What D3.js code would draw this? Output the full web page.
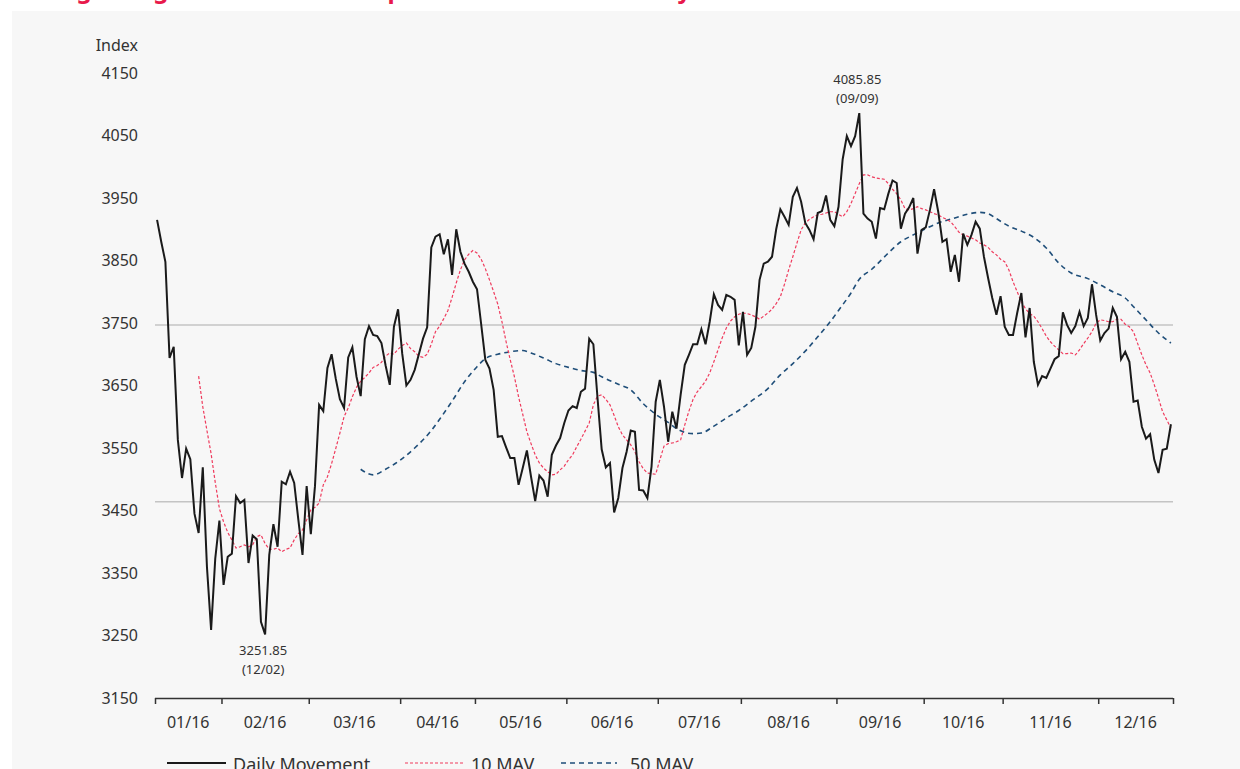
<!DOCTYPE html>
<html>
<head>
<meta charset="utf-8">
<script src="https://cdn.jsdelivr.net/npm/d3@7"></script>
<style>
  html, body { margin: 0; padding: 0; background: #ffffff; }
  body { width: 1240px; height: 769px; overflow: hidden; font-family: "Noto Sans", sans-serif; }
</style>
</head>
<body>
<svg id="chart" width="1240" height="769"></svg>
<script>
// ----------- DATA ------------
// month labels and number of trading days in each month
const months = ["01/16", "02/16", "03/16", "04/16", "05/16", "06/16", "07/16", "08/16", "09/16", "10/16", "11/16", "12/16"];
const monthDays = [16, 21, 22, 18, 22, 22, 20, 23, 21, 19, 23, 18];

// daily closing values, one per trading day
const daily = [
  3915, 3880, 3848, 3694, 3712, 3563, 3502, 3549, 3532, 3445,
  3414, 3519, 3360, 3259, 3373, 3434, 3331, 3376, 3381, 3473,
  3462, 3467, 3366, 3410, 3404, 3272, 3251.85, 3379, 3428, 3392,
  3496, 3492, 3512, 3494, 3435, 3379, 3489, 3412, 3489, 3619,
  3609, 3678, 3700, 3661, 3628, 3614, 3695, 3711, 3664, 3633,
  3724, 3745, 3731, 3729, 3718, 3682, 3651, 3744, 3772, 3701,
  3650, 3659, 3675, 3700, 3725, 3743, 3871, 3888, 3892, 3860,
  3884, 3827, 3900, 3864, 3845, 3832, 3816, 3804, 3748, 3691,
  3677, 3643, 3568, 3569, 3551, 3534, 3534, 3491, 3518, 3546,
  3504, 3465, 3506, 3498, 3472, 3539, 3554, 3566, 3590, 3610,
  3617, 3614, 3640, 3645, 3725, 3716, 3630, 3548, 3519, 3526,
  3447, 3470, 3518, 3544, 3578, 3576, 3483, 3482, 3470, 3520,
  3624, 3659, 3616, 3560, 3608, 3581, 3635, 3683, 3699, 3716,
  3716, 3740, 3716, 3752, 3796, 3779, 3771, 3795, 3792, 3787,
  3714, 3768, 3699, 3710, 3744, 3819, 3845, 3848, 3856, 3900,
  3932, 3920, 3907, 3952, 3966, 3944, 3910, 3899, 3884, 3926,
  3929, 3954, 3915, 3905, 3936, 4012, 4049, 4033, 4049, 4085.85,
  3925, 3917, 3912, 3885, 3934, 3932, 3957, 3978, 3974, 3901,
  3925, 3935, 3950, 3861, 3899, 3903, 3931, 3964, 3928, 3880,
  3884, 3832, 3859, 3816, 3893, 3875, 3891, 3912, 3901, 3856,
  3822, 3790, 3763, 3793, 3744, 3731, 3731, 3766, 3798, 3727,
  3774, 3688, 3651, 3665, 3662, 3677, 3692, 3697, 3767, 3747,
  3734, 3745, 3768, 3745, 3758, 3812, 3763, 3722, 3734, 3741,
  3774, 3760, 3692, 3704, 3688, 3624, 3626, 3584, 3565, 3572,
  3531, 3510, 3547, 3549, 3588
];

// 10-day moving average, first value is on trading day 10
const mav10Start = 10;
const mav10 = [
  3665, 3616, 3578, 3541, 3495, 3453, 3432, 3415, 3403, 3390,
  3392, 3395, 3392, 3395, 3408, 3411, 3397, 3388, 3388, 3390,
  3384, 3388, 3390, 3403, 3413, 3419, 3435, 3451, 3455, 3462,
  3491, 3504, 3525, 3549, 3574, 3600, 3614, 3632, 3647, 3657,
  3663, 3670, 3679, 3682, 3687, 3697, 3702, 3700, 3708, 3714,
  3718, 3709, 3704, 3697, 3695, 3700, 3716, 3736, 3745, 3757,
  3770, 3791, 3814, 3835, 3851, 3860, 3866, 3862, 3852, 3837,
  3819, 3800, 3780, 3752, 3720, 3691, 3664, 3632, 3604, 3576,
  3557, 3539, 3526, 3518, 3512, 3507, 3508, 3515, 3521, 3531,
  3539, 3552, 3564, 3577, 3590, 3619, 3633, 3635, 3628, 3619,
  3602, 3584, 3571, 3563, 3555, 3544, 3528, 3517, 3510, 3509,
  3508, 3531, 3553, 3557, 3558, 3560, 3563, 3587, 3609, 3628,
  3640, 3648, 3657, 3670, 3688, 3707, 3726, 3742, 3753, 3760,
  3764, 3766, 3765, 3763, 3760, 3756, 3761, 3766, 3772, 3781,
  3792, 3812, 3835, 3856, 3878, 3899, 3910, 3916, 3920, 3923,
  3924, 3926, 3928, 3928, 3924, 3920, 3928, 3941, 3957, 3973,
  3987, 3987, 3984, 3982, 3981, 3980, 3973, 3964, 3957, 3947,
  3933, 3931, 3933, 3936, 3933, 3931, 3928, 3925, 3923, 3919,
  3916, 3912, 3904, 3895, 3891, 3889, 3886, 3883, 3878, 3875,
  3871, 3864, 3859, 3852, 3848, 3835, 3816, 3800, 3784, 3773,
  3765, 3761, 3752, 3741, 3729, 3720, 3713, 3707, 3701, 3701,
  3702, 3699, 3707, 3717, 3726, 3736, 3750, 3755, 3754, 3752,
  3752, 3756, 3756, 3748, 3744, 3736, 3717, 3699, 3683, 3670,
  3651, 3630, 3608, 3595, 3582
];

// 50-day moving average, read at these trading days
const mav50Days = [49, 52, 55, 59, 62, 66, 68, 71, 74, 77, 79, 82, 85, 88, 90, 93, 96, 99, 102, 105,
  107, 111, 114, 117, 120, 123, 125, 129, 131, 134, 137, 140, 143, 147, 150, 153, 156, 159, 162, 164,
  167, 169, 172, 176, 179, 182, 185, 188, 192, 195, 198, 200, 202, 205, 208, 211, 214, 217, 220, 224,
  227, 230, 233, 235, 238, 241, 244];
const mav50 = [3516, 3507, 3516, 3533, 3550, 3578, 3596, 3625, 3656, 3680, 3693, 3700, 3704, 3706, 3702, 3694, 3685, 3679, 3674, 3671,
  3664, 3652, 3643, 3621, 3604, 3591, 3581, 3573, 3574, 3585, 3598, 3610, 3625, 3645, 3667, 3685, 3705, 3728, 3752, 3770,
  3798, 3820, 3836, 3862, 3880, 3891, 3901, 3910, 3918, 3924, 3927, 3925, 3917, 3905, 3897, 3887, 3870, 3846, 3830, 3821,
  3811, 3800, 3790, 3776, 3755, 3734, 3718];

// y axis ticks and horizontal reference lines
const yTicks = [3150, 3250, 3350, 3450, 3550, 3650, 3750, 3850, 3950, 4050, 4150];
const refLines = [3747, 3464];

// high / low annotations
const annotations = [
  { day: 26, value: "3251.85", date: "(12/02)", pos: "below" },
  { day: 169, value: "4085.85", date: "(09/09)", pos: "above" }
];

// ----------- LAYOUT ------------
const svg = d3.select("#chart");
const W = 1240, H = 769;
const plot = { left: 155, right: 1173, top: 73, bottom: 698 };
const FONT = "'Noto Sans', sans-serif";
const TEXT_COLOR = "#333333";

// background panel
svg.append("rect").attr("x", 12).attr("y", 11).attr("width", W - 12).attr("height", H - 11).attr("fill", "#f7f7f7");

// title (mostly above the visible area, as in the source)
svg.append("text")
  .attr("x", 12).attr("y", -2)
  .attr("font-family", FONT).attr("font-weight", "bold").attr("font-size", 24)
  .attr("fill", "#e8194b")
  .text("Strong swings over 2016: a sharp fall and then a recovery");

// ----------- SCALES ------------
const nDays = d3.sum(monthDays);
const x = d3.scaleLinear().domain([-0.5, nDays - 0.5]).range([plot.left, plot.right]);
const y = d3.scaleLinear().domain([3150, 4150]).range([plot.bottom, plot.top]);

// month boundaries
const bounds = [0];
monthDays.forEach(d => bounds.push(bounds[bounds.length - 1] + d));

// ----------- REFERENCE LINES ------------
svg.append("g").selectAll("line").data(refLines).join("line")
  .attr("x1", plot.left).attr("x2", plot.right)
  .attr("y1", d => y(d)).attr("y2", d => y(d))
  .attr("stroke", "#c4c4c4").attr("stroke-width", 1.5);

// ----------- Y AXIS (labels only) ------------
const yAxis = svg.append("g")
  .attr("transform", `translate(${plot.left - 17},0)`)
  .call(d3.axisLeft(y).tickValues(yTicks).tickSize(0).tickPadding(0).tickFormat(d3.format("d")));
yAxis.select(".domain").remove();
yAxis.selectAll("text").attr("font-family", FONT).attr("font-size", 16).attr("fill", TEXT_COLOR);

svg.append("text")
  .attr("x", plot.left - 17).attr("y", 51)
  .attr("text-anchor", "end")
  .attr("font-family", FONT).attr("font-size", 16).attr("fill", TEXT_COLOR)
  .text("Index");

// ----------- X AXIS ------------
const xAxis = svg.append("g")
  .attr("transform", `translate(0,${plot.bottom})`)
  .call(d3.axisBottom(x).tickValues(bounds.map(b => b - 0.5)).tickSize(6).tickFormat(""));
xAxis.select(".domain").attr("stroke", "#333").attr("stroke-width", 1.5).attr("d", `M${plot.left},0.5H${plot.right}`);
xAxis.selectAll(".tick line").attr("stroke", "#333").attr("stroke-width", 1.5);

svg.append("g").selectAll("text").data(months).join("text")
  .attr("x", (d, i) => x((bounds[i] + bounds[i + 1] - 1) / 2))
  .attr("y", 728)
  .attr("text-anchor", "middle")
  .attr("font-family", FONT).attr("font-size", 16).attr("fill", TEXT_COLOR)
  .text(d => d);

// ----------- LINES ------------
const line50 = d3.line().x((d, i) => x(mav50Days[i])).y(d => y(d)).curve(d3.curveMonotoneX);
svg.append("path").datum(mav50)
  .attr("d", line50)
  .attr("fill", "none").attr("stroke", "#1f4e79").attr("stroke-width", 1.6)
  .attr("stroke-dasharray", "5,4");

const line10 = d3.line().x((d, i) => x(i + mav10Start)).y(d => y(d));
svg.append("path").datum(mav10)
  .attr("d", line10)
  .attr("fill", "none").attr("stroke", "#ef3b5d").attr("stroke-width", 1.2)
  .attr("stroke-dasharray", "3,2");

const lineDaily = d3.line().x((d, i) => x(i)).y(d => y(d));
svg.append("path").datum(daily)
  .attr("d", lineDaily)
  .attr("fill", "none").attr("stroke", "#1a1a1a").attr("stroke-width", 2)
  .attr("stroke-linejoin", "miter");

// ----------- ANNOTATIONS ------------
annotations.forEach(a => {
  const ax = x(a.day);
  const ay = y(+a.value);
  const y1 = a.pos === "above" ? ay - 29 : ay + 21;
  const g = svg.append("g")
    .attr("font-family", FONT).attr("font-size", 13).attr("fill", TEXT_COLOR)
    .attr("text-anchor", "middle");
  g.append("text").attr("x", ax - 2).attr("y", y1).text(a.value);
  g.append("text").attr("x", ax - 2).attr("y", y1 + 19).text(a.date);
});

// ----------- LEGEND ------------
const legend = svg.append("g").attr("font-family", FONT).attr("font-size", 18).attr("fill", TEXT_COLOR);
const legendItems = [
  { label: "Daily Movement", x1: 167, x2: 226, tx: 233, color: "#1a1a1a", width: 2, dash: null },
  { label: "10 MAV", x1: 405, x2: 465, tx: 471, color: "#ef3b5d", width: 1.2, dash: "3,2" },
  { label: "50 MAV", x1: 561, x2: 617, tx: 630, color: "#1f4e79", width: 1.6, dash: "5,4" }
];
legendItems.forEach(l => {
  legend.append("line")
    .attr("x1", l.x1).attr("x2", l.x2).attr("y1", 763).attr("y2", 763)
    .attr("stroke", l.color).attr("stroke-width", l.width)
    .attr("stroke-dasharray", l.dash);
  legend.append("text").attr("x", l.tx).attr("y", 771).text(l.label);
});
</script>
</body>
</html>
